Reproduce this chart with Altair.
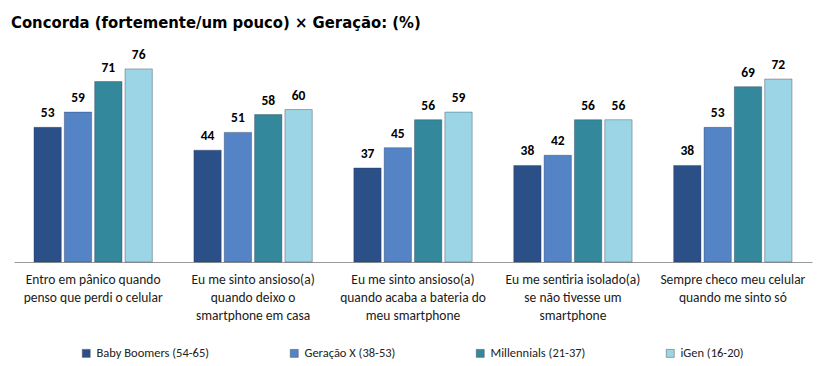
import altair as alt
import pandas as pd

categories = [
    "Entro em pânico quando|penso que perdi o celular",
    "Eu me sinto ansioso(a)|quando deixo o|smartphone em casa",
    "Eu me sinto ansioso(a)|quando acaba a bateria do|meu smartphone",
    "Eu me sentiria isolado(a)|se não tivesse um|smartphone",
    "Sempre checo meu celular|quando me sinto só",
]
generations = ["Baby Boomers (54-65)", "Geração X (38-53)", "Millennials (21-37)", "iGen (16-20)"]
baby_boomers = [53, 44, 37, 38, 38]
geracao_x = [59, 51, 45, 42, 53]
millennials = [71, 58, 56, 56, 69]
igen = [76, 60, 59, 56, 72]
colors = ["#2B5088", "#5483C6", "#33889C", "#9CD5E5"]

rows = []
for series_name, vals in zip(generations, [baby_boomers, geracao_x, millennials, igen]):
    for c, v in zip(categories, vals):
        rows.append({"cat": c, "gen": series_name, "val": v})
df = pd.DataFrame(rows)

FONT = "Carlito, Lato, sans-serif"

x = alt.X("cat:N", sort=categories, title=None,
          scale=alt.Scale(paddingInner=0.26, paddingOuter=0.125),
          axis=alt.Axis(labelExpr="split(datum.label, '|')", labelAngle=0,
                        labelFont=FONT, labelFontSize=13.5, labelColor="#1a1a1a",
                        labelLineHeight=18, labelPadding=10, ticks=False,
                        domainColor="#9a9a9a", labelLimit=300))
xo = alt.XOffset("gen:N", sort=generations, scale=alt.Scale(paddingInner=0.1))
y = alt.Y("val:Q", scale=alt.Scale(domain=[0, 85.4], nice=False), axis=None)

bars = alt.Chart(df).mark_bar(stroke="#1d2f4a", strokeOpacity=0.35, strokeWidth=1).encode(
    x=x, xOffset=xo, y=y,
    color=alt.Color("gen:N", sort=generations,
                    scale=alt.Scale(domain=generations, range=colors),
                    legend=alt.Legend(title=None, orient="none", direction="horizontal",
                                      legendX=66, legendY=302, columnPadding=78,
                                      symbolType="square", symbolSize=64,
                                      symbolStrokeColor="#555", symbolStrokeWidth=0.5,
                                      labelFont=FONT, labelFontSize=12.5, labelColor="#222",
                                      labelOffset=4)),
)
text = alt.Chart(df).mark_text(dy=-7, baseline="bottom", fontWeight="bold",
                               font=FONT, fontSize=13.5, color="#000").encode(
    x=x, xOffset=xo, y=y, text="val:Q")

chart = (bars + text).properties(
    width=798, height=217,
    autosize=alt.AutoSizeParams(type="none"),
    padding={"left": 6, "top": 37, "right": 7, "bottom": 100},
    title=alt.Title("Concorda (fortemente/um pouco) × Geração: (%)", anchor="start",
                    font="DejaVu Sans Condensed, sans-serif",
                    fontSize=16.5, fontWeight="bold", color="#000", dx=-3, offset=14),
).configure_view(stroke=None)

chart.save("out.html", embed_options={"renderer": "svg", "actions": False})
